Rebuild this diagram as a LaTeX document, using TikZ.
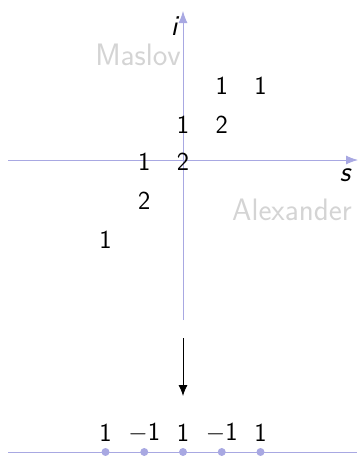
\documentclass[tikz,border=0pt]{standalone}
\usetikzlibrary{arrows.meta}
\definecolor{axiscol}{RGB}{168,168,226}
\definecolor{labgray}{RGB}{212,212,212}
\tikzset{
  axis/.style={draw=axiscol, line width=0.9pt, -{Latex[length=12pt,width=9pt]}},
  entry/.style={font=\sffamily\fontsize{26}{30}\selectfont, inner sep=0pt, anchor=center},
  axlab/.style={font=\sffamily\itshape\fontsize{29}{32}\selectfont, inner sep=0pt},
  namelab/.style={font=\sffamily\fontsize{31}{34}\selectfont, text=labgray, inner sep=0pt},
  dot/.style={circle, fill=axiscol, inner sep=0pt, minimum size=8pt},
}
\begin{document}
\begin{tikzpicture}[x=1pt,y=-1pt]
\useasboundingbox (0,0) rectangle (359,456);
% axes
\coordinate (xl) at (8,160);
\coordinate (xr) at (358,160);
\coordinate (yb) at (183,320);
\coordinate (yt) at (183,11);
\draw[axis] (xl) -- (xr);
\draw[axis] (yb) -- (yt);
\node[axlab] (ilab) at (174,26) {i};
\node[axlab] (slab) at (345,175) {s};
\node[namelab] (maslov) at (138,55) {Maslov};
\node[namelab] (alex) at (292,210) {Alexander};
% entries
\def\u{38.75}
\node[entry] (e12) at (183+\u,86) {1};
\node[entry] (e22) at (183+2*\u,86) {1};
\node[entry] (e01) at (183,125) {1};
\node[entry] (e11) at (183+\u,125) {2};
\node[entry] (em10) at (183-\u,162) {1};
\node[entry] (e00) at (183,162) {2};
\node[entry] (em1m1) at (183-\u,201) {2};
\node[entry] (em2m2) at (183-2*\u,240) {1};
% map arrow
\coordinate (as) at (183,338);
\coordinate (ae) at (183,396);
\draw[line width=0.9pt, -{Latex[length=11pt,width=9pt]}] (as) -- (ae);
% bottom line
\coordinate (bl) at (8,452);
\coordinate (br) at (357,452);
\draw[draw=axiscol, line width=0.9pt] (bl) -- (br);
\foreach \k/\t in {-2/1,-1/$-$1,0/1,1/$-$1,2/1}{
  \node[dot] (d\k) at (183+\k*\u,452) {};
  \node[entry] (b\k) at (183+\k*\u,433) {\t};
}
\end{tikzpicture}
\end{document}
